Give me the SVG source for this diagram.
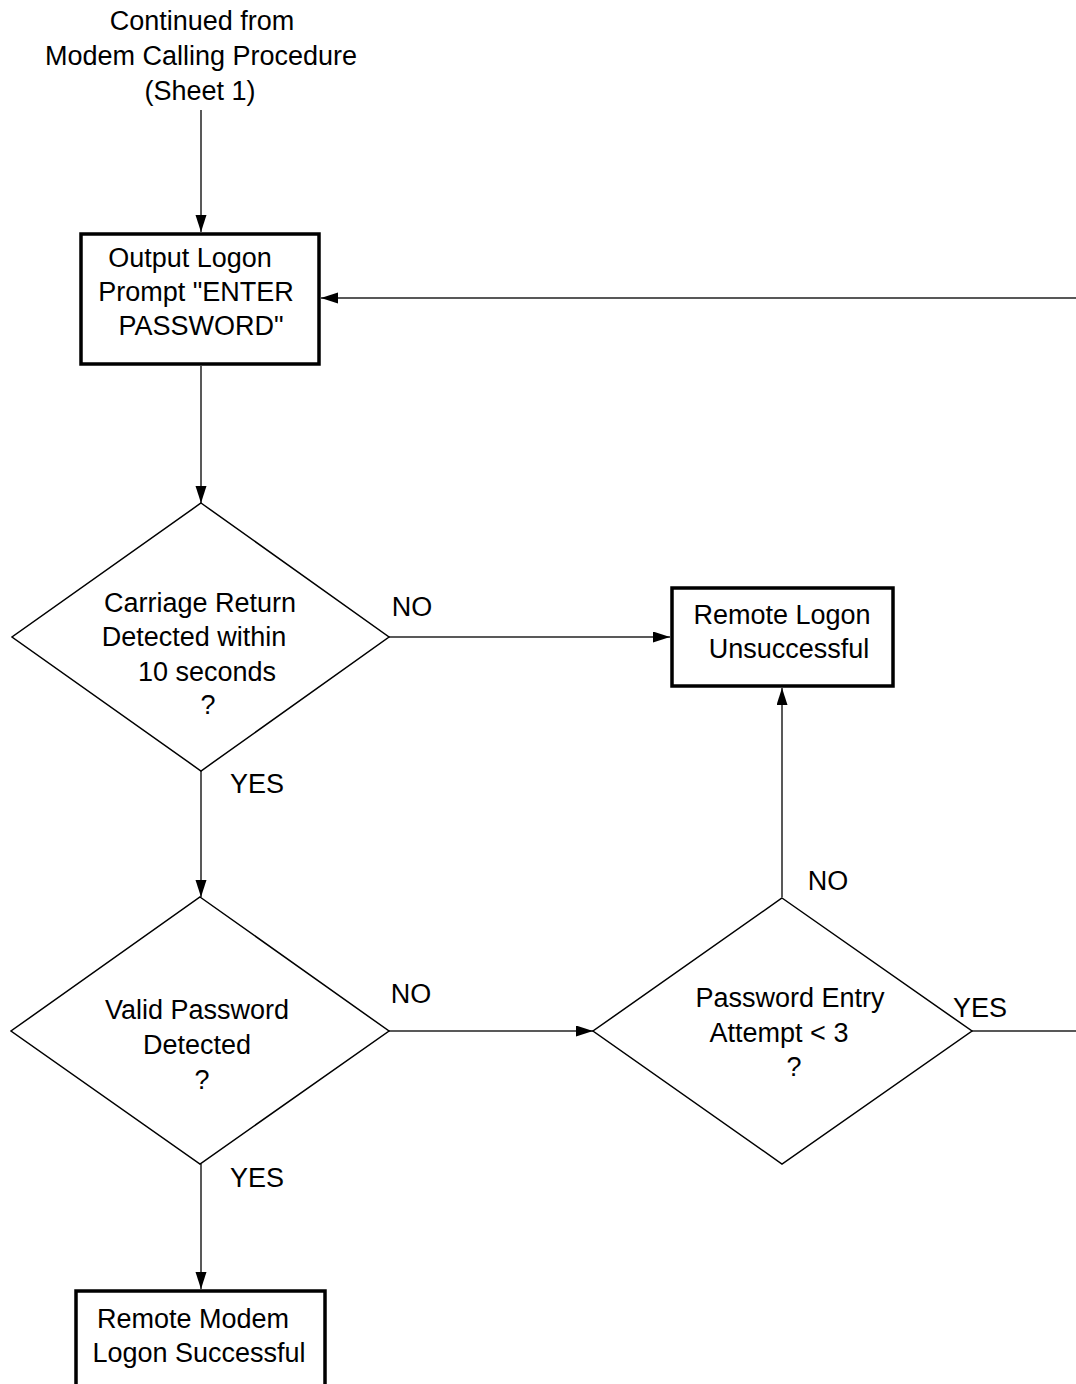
<svg xmlns="http://www.w3.org/2000/svg" width="1076" height="1384" viewBox="0 0 1076 1384">
<style>
text{font-family:"Liberation Sans",Arial,sans-serif;font-size:27px;fill:#000;text-anchor:middle}
.box{fill:#fff;stroke:#000;stroke-width:3.5}
.dia{fill:#fff;stroke:#000;stroke-width:1.5}
.con{fill:none;stroke:#222;stroke-width:1.5}
</style>
<defs>
<marker id="arr" markerUnits="userSpaceOnUse" markerWidth="18" markerHeight="12" refX="17" refY="5.5" orient="auto">
<path d="M0,0 L17,5.5 L0,11 Z" fill="#000"/>
</marker>
</defs>
<g id="connectors">
<line class="con" x1="201" y1="110" x2="201" y2="232" marker-end="url(#arr)"/>
<line class="con" x1="201" y1="366" x2="201" y2="503" marker-end="url(#arr)"/>
<line class="con" x1="389" y1="637" x2="670" y2="637" marker-end="url(#arr)"/>
<line class="con" x1="201" y1="771" x2="201" y2="897" marker-end="url(#arr)"/>
<line class="con" x1="389" y1="1031" x2="593" y2="1031" marker-end="url(#arr)"/>
<line class="con" x1="782" y1="897" x2="782" y2="688" marker-end="url(#arr)"/>
<path class="con" d="M972,1031 H1082 V298 H321" marker-end="url(#arr)"/>
<line class="con" x1="201" y1="1164" x2="201" y2="1289" marker-end="url(#arr)"/>
<text x="412" y="616">NO</text>
<text x="257" y="793">YES</text>
<text x="411" y="1003">NO</text>
<text x="257" y="1187">YES</text>
<text x="828" y="890">NO</text>
<text x="980" y="1017">YES</text>
</g>
<g id="start">
<text x="202" y="30">Continued from</text>
<text x="201" y="65">Modem Calling Procedure</text>
<text x="200" y="100">(Sheet 1)</text>
</g>
<g id="output-logon">
<rect class="box" x="81" y="234" width="238" height="130"/>
<text x="190" y="267">Output Logon</text>
<text x="196" y="301">Prompt "ENTER</text>
<text x="201" y="335">PASSWORD"</text>
</g>
<g id="carriage-return">
<polygon class="dia" points="201,503 389,637 201,771 12,637"/>
<text x="200" y="612">Carriage Return</text>
<text x="194" y="646">Detected within</text>
<text x="207" y="681">10 seconds</text>
<text x="208" y="714">?</text>
</g>
<g id="remote-logon-unsuccessful">
<rect class="box" x="672" y="588" width="221" height="98"/>
<text x="782" y="624">Remote Logon</text>
<text x="789" y="658">Unsuccessful</text>
</g>
<g id="valid-password">
<polygon class="dia" points="200,897 389,1031 200,1164 11,1031"/>
<text x="197" y="1019">Valid Password</text>
<text x="197" y="1054">Detected</text>
<text x="202" y="1089">?</text>
</g>
<g id="password-attempt">
<polygon class="dia" points="782,898 972,1031 782,1164 593,1031"/>
<text x="790" y="1007">Password Entry</text>
<text x="779" y="1042">Attempt &lt; 3</text>
<text x="794" y="1076">?</text>
</g>
<g id="remote-modem-successful">
<rect class="box" x="76" y="1291" width="249" height="110"/>
<text x="193" y="1328">Remote Modem</text>
<text x="199" y="1362">Logon Successful</text>
</g>
</svg>
